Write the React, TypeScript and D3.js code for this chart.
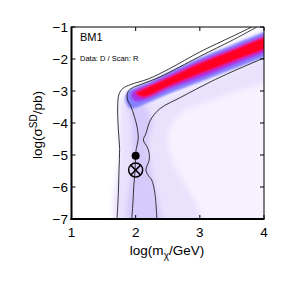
import React from 'react';
import * as d3 from 'd3';

// posterior band along the ridge (log m, log sigma)
const bandMass = [1.84, 1.9, 2.0, 2.2, 2.5, 3.0, 3.5, 4.0, 4.3];
const blueHi = [-3.15, -2.98, -2.88, -2.72, -2.43, -1.96, -1.56, -1.16, -0.94];
const blueLo = [-3.3, -3.52, -3.52, -3.36, -3.1, -2.72, -2.33, -1.95, -1.72];

const purpleMass = [1.93, 2.0, 2.2, 2.5, 3.0, 3.5, 4.0, 4.3];
const purpleHi = [-3.05, -2.95, -2.8, -2.51, -2.05, -1.66, -1.26, -1.04];
const purpleLo = [-3.2, -3.32, -3.24, -2.96, -2.6, -2.2, -1.82, -1.6];

const redMass = [2.0, 2.12, 2.5, 3.0, 3.5, 4.0, 4.3];
const redHi = [-3.03, -2.92, -2.58, -2.12, -1.72, -1.31, -1.1];
const redLo = [-3.1, -3.2, -2.88, -2.48, -2.09, -1.72, -1.5];

// lavender tails of the posterior
const faintMass = [1.73, 1.74, 1.74, 1.76, 1.85, 2.0, 2.5, 3.0, 4.3, 4.3];
const faintLog = [-7.3, -5.0, -3.6, -3.15, -2.95, -2.9, -2.5, -2.05, -1.0, -7.3];

const lightMass = [1.74, 1.75, 1.76, 1.8, 2.3, 2.7, 3.2, 4.3, 4.3, 3.3, 2.7, 2.5, 2.6, 2.85, 3.0, 3.0];
const lightLog = [-7.3, -5.0, -3.7, -3.2, -3.3, -3.05, -2.65, -1.9, -2.4, -3.2, -3.7, -4.4, -5.3, -6.2, -6.8, -7.3];

const stripMass = [1.9, 1.95, 1.93, 1.9, 2.1, 2.25, 2.2, 2.24, 2.32, 2.38];
const stripLog = [-7.3, -5.2, -3.9, -3.35, -3.4, -3.9, -4.6, -5.4, -6.2, -7.3];

// credible region contours
const outerMass = [1.71, 1.73, 1.74, 1.75, 1.73, 1.72, 1.74, 1.8, 1.92, 2.2, 2.53, 3.0, 3.5, 3.81];
const outerLog = [-7, -6.2, -5.5, -4.8, -4.2, -3.5, -3.1, -2.92, -2.8, -2.62, -2.3, -1.78, -1.3, -1.0];

const innerMass = [1.94, 1.96, 1.97, 1.99, 2.0, 2.01, 2.04, 2.02, 1.98, 1.93, 1.87, 1.88, 1.95, 2.1, 2.38, 3.0, 3.5, 3.89];
const innerLog = [-7, -6.4, -6.0, -5.5, -5.0, -4.8, -4.5, -4.1, -3.8, -3.5, -3.25, -3.03, -2.9, -2.78, -2.56, -1.92, -1.42, -1.0];

const lowerMass = [4.0, 3.5, 3.16, 2.7, 2.38, 2.23, 2.16, 2.12, 2.18, 2.21, 2.21, 2.16, 2.2, 2.25, 2.3, 2.33];
const lowerLog = [-1.97, -2.4, -2.72, -3.2, -3.55, -3.91, -4.33, -4.53, -4.75, -4.95, -5.16, -5.47, -5.65, -5.78, -6.2, -7];

// benchmark markers
const bestFit = { m: 2.0, s: -5.02 };
const truePoint = { m: 2.0, s: -5.47 };

const xTicks = [1, 2, 3, 4];
const yTicks = [-1, -2, -3, -4, -5, -6, -7];

const FONT = '"Liberation Sans", Arial, sans-serif';

export default function App() {
  const W = 291, H = 291;
  const left = 71.5, right = 264, top = 27, bottom = 219;
  const x = d3.scaleLinear().domain([1, 4]).range([left, right]);
  const y = d3.scaleLinear().domain([-7, -1]).range([bottom, top]);

  const band = (ms: number[], hi: number[], lo: number[]) =>
    d3.area<number>()
      .x(i => x(ms[i]))
      .y0(i => y(lo[i]))
      .y1(i => y(hi[i]))
      .curve(d3.curveCatmullRom)(d3.range(ms.length)) as string;

  const poly = (ms: number[], ls: number[]) =>
    d3.line<number>()
      .x(i => x(ms[i]))
      .y(i => y(ls[i]))
      .curve(d3.curveCatmullRomClosed)(d3.range(ms.length)) as string;

  const path = (ms: number[], ls: number[]) =>
    d3.line<number>()
      .x(i => x(ms[i]))
      .y(i => y(ls[i]))
      .curve(d3.curveCatmullRom)(d3.range(ms.length)) as string;

  const tk = 4;

  return (
    <svg width={W} height={H} style={{ position: 'fixed', left: 0, top: 0, background: '#fff' }} fontFamily={FONT}>
      <defs>
        <clipPath id="plot">
          <rect x={left} y={top} width={right - left} height={bottom - top} />
        </clipPath>
        <filter id="soft" x="-20%" y="-20%" width="140%" height="140%">
          <feGaussianBlur stdDeviation={2.5} />
        </filter>
        <filter id="band" x="-20%" y="-20%" width="140%" height="140%">
          <feGaussianBlur stdDeviation={1.3} />
        </filter>
      </defs>

      <g clipPath="url(#plot)">
        <g filter="url(#soft)">
          <path d={poly(faintMass, faintLog)} fill="#f6f2ff" />
          <path d={poly(lightMass, lightLog)} fill="#e9e2fd" />
          <path d={poly(stripMass, stripLog)} fill="#d6cafb" />
        </g>
        <g filter="url(#band)">
          <path d={band(bandMass, blueHi, blueLo)} fill="#8480ff" />
          <path d={band(purpleMass, purpleHi, purpleLo)} fill="#a830e8" />
          <path d={band(redMass, redHi, redLo)} fill="#ff0522" />
        </g>
        <g fill="none" stroke="#222" strokeWidth={0.9}>
          <path d={path(outerMass, outerLog)} />
          <path d={path(innerMass, innerLog)} />
          <path d={path(lowerMass, lowerLog)} />
        </g>
      </g>

      {/* markers */}
      <circle cx={x(bestFit.m)} cy={y(bestFit.s)} r={4} fill="#000" />
      <g stroke="#000" strokeWidth={1.5} fill="none">
        <circle cx={x(truePoint.m)} cy={y(truePoint.s)} r={7} />
        <line x1={x(truePoint.m) - 4.9} y1={y(truePoint.s) - 4.9} x2={x(truePoint.m) + 4.9} y2={y(truePoint.s) + 4.9} />
        <line x1={x(truePoint.m) - 4.9} y1={y(truePoint.s) + 4.9} x2={x(truePoint.m) + 4.9} y2={y(truePoint.s) - 4.9} />
      </g>

      {/* frame */}
      <g stroke="#000" fill="none">
        <line x1={left} y1={top} x2={right} y2={top} strokeWidth={1} />
        <line x1={right} y1={top} x2={right} y2={bottom} strokeWidth={1} />
        <line x1={left} y1={top - 0.5} x2={left} y2={bottom + 1} strokeWidth={2} />
        <line x1={left - 1} y1={bottom} x2={right + 0.5} y2={bottom} strokeWidth={2} />
        {xTicks.map(t => (
          <g key={'x' + t}>
            <line x1={x(t)} x2={x(t)} y1={bottom} y2={bottom - tk} />
            <line x1={x(t)} x2={x(t)} y1={top} y2={top + tk} />
          </g>
        ))}
        {yTicks.map(t => (
          <g key={'y' + t}>
            <line x1={left} x2={left + tk} y1={y(t)} y2={y(t)} />
            <line x1={right} x2={right - tk} y1={y(t)} y2={y(t)} />
          </g>
        ))}
      </g>

      {/* tick labels */}
      <g fontSize={13.5} fill="#000">
        {xTicks.map(t => (
          <text key={'xl' + t} x={x(t)} y={237} textAnchor="middle">{t}</text>
        ))}
        {yTicks.map(t => (
          <text key={'yl' + t} x={68} y={y(t)} dy="0.36em" textAnchor="end">{'\u2212' + Math.abs(t)}</text>
        ))}
      </g>

      {/* axis titles */}
      <text x={167} y={255} fontSize={13.5} textAnchor="middle">
        log(m<tspan dy={4} fontSize={10}>χ</tspan><tspan dy={-4}>/GeV)</tspan>
      </text>
      <text transform={`translate(42,125) rotate(-90)`} fontSize={13.5} textAnchor="middle">
        log(σ<tspan dy={-5} fontSize={10}>SD</tspan><tspan dy={5}>/pb)</tspan>
      </text>

      {/* annotations */}
      <text x={80} y={41} fontSize={11}>BM1</text>
      <text x={80} y={61} fontSize={7.5}>Data: D / Scan: R</text>
    </svg>
  );
}
